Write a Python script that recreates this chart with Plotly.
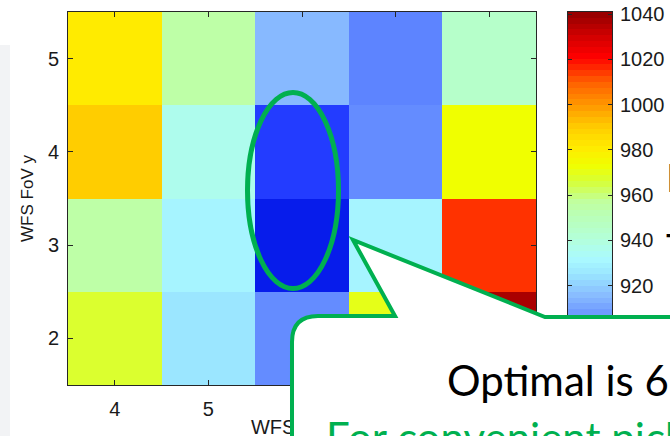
import numpy as np
import plotly.graph_objects as go

# ---------------- data ----------------
x_vals = [4, 5, 6, 7, 8]
y_vals = [2, 3, 4, 5]
z_rows = [
    [967, 925, 905, 970, 1037],  # y = 2
    [955, 930, 878, 930, 1015],  # y = 3
    [990, 936, 886, 905, 973],   # y = 4
    [981, 955, 915, 903, 945],   # y = 5
]
cbar_ticks = [900, 920, 940, 960, 980, 1000, 1020, 1040]
z_min, z_max = 876, 1041
x_title = "WFS FoV x"
y_title = "WFS FoV y"

# colormap anchors (value, rgb) - lightened jet as in the reference
anchors = [
    (876, (0, 20, 230)), (886, (35, 60, 255)), (896, (70, 105, 255)),
    (905, (100, 140, 255)), (915, (135, 185, 255)), (925, (155, 230, 255)),
    (932, (170, 250, 255)), (941, (180, 255, 215)), (950, (185, 255, 185)),
    (957, (192, 255, 160)), (966, (215, 255, 55)), (973, (240, 255, 0)),
    (981, (255, 235, 0)), (990, (255, 205, 0)), (1000, (255, 150, 0)),
    (1010, (255, 95, 0)), (1015, (255, 50, 0)), (1021, (255, 0, 0)),
    (1030, (210, 0, 0)), (1041, (145, 0, 0)),
]
colorscale = [[(v - z_min) / (z_max - z_min), "rgb(%d,%d,%d)" % c] for v, c in anchors]

# ---------------- geometry helpers (paper == whole figure) ----------------
W, H = 670, 436


def fx(px):
    return px / W


def fy(py):
    return 1 - py / H


GREEN = "#00B050"
AX = "#262626"
TXT = "#1a1a1a"
SANS = "Liberation Sans, Arial, sans-serif"
TICKFONT = dict(family=SANS, size=20, color=TXT)

fig = go.Figure()

fig.add_trace(go.Heatmap(
    x=x_vals, y=y_vals, z=z_rows, zmin=z_min, zmax=z_max,
    colorscale=colorscale, showscale=False, xaxis="x", yaxis="y",
    hoverinfo="x+y+z",
))

# colour bar drawn as a narrow heatmap (64 discrete levels)
n_lev = 64
edges = np.linspace(z_min, z_max, n_lev + 1)
centers = (edges[:-1] + edges[1:]) / 2
fig.add_trace(go.Heatmap(
    x=[0], y=centers, z=[[c] for c in centers], zmin=z_min, zmax=z_max,
    colorscale=colorscale, showscale=False, xaxis="x2", yaxis="y2",
    hoverinfo="skip",
))

# x-axis title as text on a full-figure overlay axis (kept below the callout)
fig.add_trace(go.Scatter(
    x=[302], y=[429], mode="text", text=[x_title], cliponaxis=False,
    textfont=dict(family=SANS, size=20, color=TXT),
    hoverinfo="skip", showlegend=False, xaxis="x3", yaxis="y3",
))

fig.update_layout(
    width=W, height=H,
    margin=dict(l=0, r=0, t=0, b=0, pad=0, autoexpand=False),
    paper_bgcolor="white", plot_bgcolor="rgba(0,0,0,0)",
    showlegend=False,
    xaxis=dict(
        domain=[fx(68), fx(536)], range=[3.5, 8.5], anchor="y", automargin=False,
        tickvals=x_vals, ticks="inside", ticklen=5, tickcolor=AX,
        showline=True, linecolor=AX, linewidth=1, mirror="ticks",
        showgrid=False, zeroline=False, tickfont=TICKFONT,
        ticklabelstandoff=6,
    ),
    yaxis=dict(
        domain=[fy(385), fy(12)], range=[1.5, 5.5], anchor="x", automargin=False,
        tickvals=y_vals, ticks="inside", ticklen=5, tickcolor=AX,
        showline=True, linecolor=AX, linewidth=1, mirror="ticks",
        showgrid=False, zeroline=False, tickfont=TICKFONT,
        ticklabelstandoff=4,
        title=dict(text=y_title, standoff=9, font=dict(family=SANS, size=17, color=TXT)),
    ),
    xaxis2=dict(
        domain=[fx(568), fx(612)], range=[-0.5, 0.5], anchor="y2", automargin=False,
        showticklabels=False, ticks="", showline=True, linecolor=AX,
        linewidth=1, mirror=True, showgrid=False, zeroline=False,
    ),
    yaxis2=dict(
        domain=[fy(385), fy(12)], range=[z_min, z_max], anchor="x2", side="right",
        automargin=False,
        tickvals=cbar_ticks, ticks="inside", ticklen=4, tickcolor=AX,
        showline=True, linecolor=AX, linewidth=1, mirror="ticks",
        showgrid=False, zeroline=False, tickfont=TICKFONT,
        ticklabelstandoff=3,
    ),
    xaxis3=dict(domain=[0, 1], range=[0, W], anchor="y3", visible=False,
                fixedrange=True, automargin=False),
    yaxis3=dict(domain=[0, 1], range=[H, 0], anchor="x3", visible=False,
                fixedrange=True, automargin=False),
)

shapes = []
# faint slide background strip on the far left
shapes.append(dict(type="rect", xref="paper", yref="paper", layer="below",
                   x0=fx(0), x1=fx(10), y0=fy(45), y1=fy(440),
                   fillcolor="#f2f3f5", line=dict(width=0)))
# green ellipse
shapes.append(dict(type="circle", xref="paper", yref="paper", layer="above",
                   x0=fx(247.5), x1=fx(338.5), y0=fy(288.5), y1=fy(92.5),
                   line=dict(color=GREEN, width=5), fillcolor="rgba(0,0,0,0)"))
# speech-bubble callout
pts = [
    ("M", 292, 460), ("L", 292, 342), ("Q", 292, 316, 318, 316), ("L", 395, 316),
    ("L", 353, 240), ("L", 545, 317), ("L", 700, 317), ("L", 700, 460),
]
path = ""
for p in pts:
    if p[0] == "Q":
        path += "Q%.5f,%.5f %.5f,%.5f " % (fx(p[1]), fy(p[2]), fx(p[3]), fy(p[4]))
    else:
        path += "%s%.5f,%.5f " % (p[0], fx(p[1]), fy(p[2]))
path += "Z"
shapes.append(dict(type="path", path=path, xref="paper", yref="paper", layer="above",
                   fillcolor="white", line=dict(color=GREEN, width=4)))
fig.update_layout(shapes=shapes)

SLIDE_FONT = "Lato, Open Sans, sans-serif"
annotations = [
    dict(text="Optimal is 6", x=fx(445), y=fy(407), xanchor="left", yanchor="bottom",
         font=dict(family=SLIDE_FONT, size=42, color="black")),
    dict(text="For convenient pick-off", x=fx(324), y=fy(410), xanchor="left", yanchor="top",
         font=dict(family=SLIDE_FONT, size=42, color=GREEN)),
    dict(text="E", x=fx(664), y=fy(152), xanchor="left", yanchor="top",
         font=dict(family=SLIDE_FONT, size=39, color="black")),
    dict(text="T", x=fx(664), y=fy(222), xanchor="left", yanchor="top",
         font=dict(family=SLIDE_FONT, size=39, color="black")),
]
for a in annotations:
    a.update(xref="paper", yref="paper", showarrow=False)
fig.update_layout(annotations=annotations)

fig.write_html(
    "out.html",
    config={"displayModeBar": False},
    post_script="document.body.style.margin='0';document.body.style.overflow='hidden';",
)
